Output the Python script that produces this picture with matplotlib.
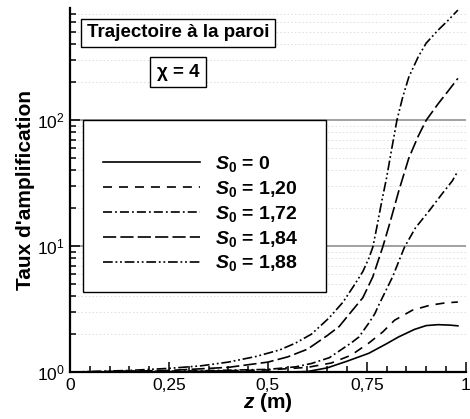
import matplotlib

matplotlib.use("Agg")
import matplotlib.pyplot as plt  # noqa: E402
from matplotlib.patches import Rectangle  # noqa: E402
from matplotlib.ticker import FixedLocator, MultipleLocator, FuncFormatter  # noqa: E402

plt.rcParams["font.family"] = ["Liberation Sans", "DejaVu Sans"]
plt.rcParams["mathtext.fontset"] = "custom"
plt.rcParams["mathtext.rm"] = "Liberation Sans"
plt.rcParams["mathtext.it"] = "Liberation Sans:bold:italic"
plt.rcParams["mathtext.bf"] = "Liberation Sans:bold"
plt.rcParams["lines.scale_dashes"] = False

# values (z in m, amplification ratio)
z_s0_0 = [0, 0.3, 0.55, 0.6, 0.65, 0.7, 0.755, 0.8, 0.83, 0.87, 0.9, 0.93, 0.96, 0.98]
a_s0_0 = [1.0, 1.0, 1.0, 1.01, 1.08, 1.22, 1.41, 1.68, 1.9, 2.18, 2.34, 2.38, 2.36, 2.33]

z_s0_120 = [0, 0.3, 0.5, 0.6, 0.66, 0.71, 0.755, 0.79, 0.82, 0.865, 0.91, 0.95, 0.98]
a_s0_120 = [1.0, 1.01, 1.04, 1.09, 1.18, 1.36, 1.70, 2.08, 2.58, 3.1, 3.4, 3.55, 3.6]

z_s0_172 = [0, 0.3, 0.5, 0.57, 0.61, 0.655, 0.71, 0.73, 0.755, 0.77, 0.78, 0.815,
            0.845, 0.873, 0.907, 0.94, 0.966, 0.977]
a_s0_172 = [1.0, 1.02, 1.05, 1.1, 1.17, 1.3, 1.7, 1.9, 2.45, 2.9, 3.4, 5.7,
            9.8, 14, 19, 26, 33, 38]

z_s0_184 = [0, 0.25, 0.4, 0.5, 0.55, 0.6, 0.65, 0.68, 0.71, 0.74, 0.765, 0.79, 0.81,
            0.83, 0.856, 0.88, 0.9, 0.93, 0.955, 0.98]
a_s0_184 = [1.0, 1.03, 1.09, 1.2, 1.32, 1.52, 1.95, 2.3, 3.0, 3.9, 5.7, 9.8, 16,
            27, 50, 75, 100, 135, 170, 215]

z_s0_188 = [0, 0.15, 0.25, 0.33, 0.4, 0.47, 0.53, 0.57, 0.61, 0.655, 0.69, 0.72, 0.74,
            0.755, 0.765, 0.775, 0.788, 0.8, 0.811, 0.826, 0.84, 0.856, 0.88, 0.9, 0.93,
            0.955, 0.98]
a_s0_188 = [1.0, 1.03, 1.07, 1.12, 1.2, 1.33, 1.5, 1.7, 2.0, 2.7, 3.6, 5.0, 6.3,
            8.0, 9.8, 14, 23, 35, 55, 100, 150, 220, 320, 410, 520,
            620, 750]

labels = ["0", "1,20", "1,72", "1,84", "1,88"]
x_ticks = [0, 0.25, 0.5, 0.75, 1]
x_tick_labels = ["0", "0,25", "0,5", "0,75", "1"]

series = [(z_s0_0, a_s0_0), (z_s0_120, a_s0_120), (z_s0_172, a_s0_172),
          (z_s0_184, a_s0_184), (z_s0_188, a_s0_188)]
dashes = [None, (6.5, 5), (6.5, 2.2, 1.3, 2.2), (9.5, 3), (7, 2, 1.3, 2, 1.3, 2)]

fig = plt.figure(figsize=(4.7, 4.19), dpi=100)
ax = fig.add_axes([0.149, 0.112, 0.842, 0.869])

handles = []
for (z, a), lab, d in zip(series, labels, dashes):
    (ln,) = ax.plot(z, a, color="black", lw=1.2, label=rf"$S_\mathbf{{0}}$ = {lab}", zorder=4)
    if d is not None:
        ln.set_dashes(d)
    handles.append(ln)

ax.set_yscale("log")
ax.set_xlim(0, 1)
ax.set_ylim(1, 780)
ax.set_xticks(x_ticks)
ax.xaxis.set_major_formatter(FuncFormatter(lambda v, p: x_tick_labels[p] if p is not None and p < len(x_tick_labels) else ""))
ax.xaxis.set_minor_locator(MultipleLocator(0.05))
ax.yaxis.set_major_locator(FixedLocator([1, 10, 100]))

ax.grid(which="major", axis="y", color="#888888", lw=1.1, ls="-", zorder=1)
ax.grid(which="minor", axis="y", color="#d8d8d8", lw=0.6, ls=":", zorder=1)
ax.set_axisbelow(True)

for s in ("top", "right"):
    ax.spines[s].set_visible(False)
for s in ("left", "bottom"):
    ax.spines[s].set_linewidth(1.6)
    ax.spines[s].set_zorder(6)
ax.tick_params(which="both", direction="in", width=1.1, labelsize=12.5, pad=4)
ax.tick_params(which="major", length=7)
ax.tick_params(which="minor", length=4.5)

ax.set_xlabel(r"$z$ (m)", fontsize=15, weight="bold", labelpad=-1)
ax.set_ylabel("Taux d'amplification", fontsize=15, weight="bold", labelpad=1)

# legend box
ax.add_patch(Rectangle((0.033, 0.22), 0.615, 0.473, transform=ax.transAxes,
                       fc="white", ec="black", lw=1.0, zorder=3))
ax.legend(handles=handles, loc="center", bbox_to_anchor=(0.33, 0.435), frameon=False,
          prop={"size": 14, "weight": "bold"}, handlelength=5.0, handletextpad=0.8,
          labelspacing=0.25).set_zorder(5)

box = dict(boxstyle="square,pad=0.3", fc="white", ec="black", lw=1.0)
fig.text(0.379, 0.922, "Trajectoire à la paroi", ha="center", va="center",
         fontsize=13.5, weight="bold", bbox=box)
fig.text(0.379, 0.828, "χ = 4", ha="center", va="center",
         fontsize=13.5, weight="bold", bbox=dict(box, boxstyle="square,pad=0.35"))

fig.savefig("out.png", dpi=100)
